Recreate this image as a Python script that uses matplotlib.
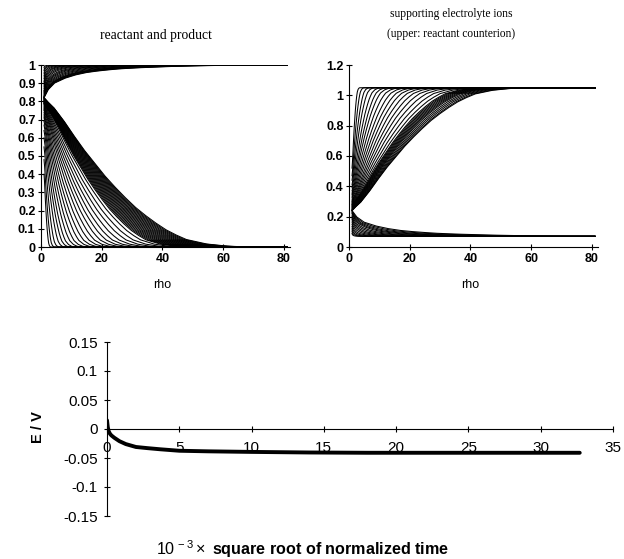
import numpy as np
import matplotlib
matplotlib.use("Agg")
import matplotlib.pyplot as plt

plt.rcParams['font.family'] = ['Liberation Sans', 'DejaVu Sans']
plt.rcParams['mathtext.fontset'] = 'custom'
plt.rcParams['mathtext.rm'] = 'Liberation Sans'
plt.rcParams['mathtext.it'] = 'Liberation Sans:italic'
plt.rcParams['mathtext.bf'] = 'Liberation Sans:bold'

# profile shapes: fraction of the way from the surface
# value to the bulk value, against fraction of the distance to where it meets bulk
prof_u = [0, 0.02, 0.05, 0.1, 0.15, 0.2, 0.25, 0.3, 0.35, 0.4, 0.45, 0.5,
          0.55, 0.6, 0.65, 0.7, 0.8, 0.9, 1.0]
prof_slow = [1.0, 0.97, 0.93, 0.84, 0.74, 0.645, 0.56, 0.475, 0.40, 0.33, 0.265,
             0.21, 0.16, 0.115, 0.08, 0.05, 0.02, 0.006, 0.0]
prof_fast = [1.0, 0.75, 0.55, 0.40, 0.30, 0.23, 0.185, 0.15, 0.12, 0.10, 0.083,
             0.07, 0.057, 0.045, 0.036, 0.028, 0.015, 0.006, 0.0]

rho_first = 1.0
rho_last = 81.0

# left: product (lower family, bulk 0)
prod_bulk = 0.0
prod_start = [0.40, 0.48, 0.55, 0.60, 0.64, 0.67, 0.69, 0.71, 0.72, 0.73, 0.74,
              0.75, 0.755, 0.76, 0.765, 0.77, 0.775, 0.78, 0.785,
              0.786, 0.788, 0.79, 0.792, 0.794, 0.796, 0.798, 0.80, 0.802, 0.804,
              0.806, 0.808, 0.81, 0.812, 0.814, 0.816, 0.818, 0.819, 0.82, 0.82]
prod_reach = [2.2, 3.4, 4.9, 6.7, 8.4, 10.1, 12.1, 14.1, 16.4, 18.7, 21.2,
              23.8, 26.5, 29.3, 32.2, 35.3, 38.6, 41.9, 45.4,
              48, 49, 50, 51, 52, 53, 54, 55, 56, 57, 58, 59, 60, 61, 62, 63,
              64, 65, 66, 67]

# left: reactant (upper family, bulk 1)
reac_bulk = 1.0
reac_start = [0.985, 0.97, 0.955, 0.94, 0.925, 0.91, 0.90, 0.89, 0.88, 0.87, 0.86,
              0.855, 0.85, 0.845, 0.84, 0.835, 0.83, 0.828, 0.826, 0.824, 0.822, 0.82]
reac_reach = [3, 4.5, 6, 8, 10, 12, 14, 17, 20, 23, 27, 31, 35, 40, 45, 50, 55,
              58, 61, 64, 67, 70]

# right: reactant counterion (upper family, bulk 1.05)
coun_bulk = 1.05
coun_start = [0.52, 0.47, 0.44, 0.41, 0.39, 0.37, 0.355, 0.345, 0.335, 0.325,
              0.315, 0.305, 0.30, 0.295, 0.29, 0.285, 0.28,
              0.278, 0.274, 0.27, 0.266, 0.262, 0.258, 0.254, 0.25, 0.247, 0.244,
              0.242, 0.24, 0.24]
coun_reach = [2.5, 3.9, 5.6, 7.3, 9.4, 11.4, 13.4, 15.8, 18.3, 20.8, 23.3,
              26, 28.9, 31.9, 35.1, 38.4, 41.5,
              44, 45, 46, 47, 48, 49, 50, 51, 52.5, 54, 55.5, 57, 58]

# right: other electrolyte ion (lower family, bulk 0.07)
coion_bulk = 0.07
coion_start = [0.09, 0.105, 0.12, 0.135, 0.15, 0.165, 0.18, 0.19, 0.20, 0.21,
               0.22, 0.225, 0.23, 0.235, 0.24]
coion_reach = [3, 5, 7, 10, 13, 17, 21, 26, 32, 38, 45, 52, 60, 70, 80]

# bottom: potential transient
t_sqrt = [0, 0.05, 0.1, 0.2, 0.3, 0.5, 0.86, 1.3, 2.0, 2.8, 3.7, 5, 7, 10, 14,
          18, 22, 26, 30, 32.7]
e_volt = [0.015, 0.004, -0.003, -0.008, -0.011, -0.015, -0.021, -0.026, -0.031,
          -0.033, -0.035, -0.0375, -0.0385, -0.0395, -0.0405, -0.041, -0.041,
          -0.041, -0.041, -0.041]

left_yticks = [0, 0.1, 0.2, 0.3, 0.4, 0.5, 0.6, 0.7, 0.8, 0.9, 1]
left_ylabels = ['0', '0.1', '0.2', '0.3', '0.4', '0.5', '0.6', '0.7', '0.8', '0.9', '1']
right_yticks = [0, 0.2, 0.4, 0.6, 0.8, 1.0, 1.2]
right_ylabels = ['0', '0.2', '0.4', '0.6', '0.8', '1', '1.2']
rho_ticks = [0, 20, 40, 60, 80]
e_ticks = [-0.15, -0.1, -0.05, 0, 0.05, 0.1, 0.15]
e_labels = ['-0.15', '-0.1', '-0.05', '0', '0.05', '0.1', '0.15']
t_ticks = [0, 5, 10, 15, 20, 25, 30, 35]


def draw_family(ax, starts, reaches, bulk, prof):
    u = np.array(prof_u)
    p = np.array(prof)
    for s, r in zip(starts, reaches):
        x = rho_first + u * r
        y = bulk + (s - bulk) * p
        keep = x < rho_last
        x = np.append(x[keep], rho_last)
        y = np.append(y[keep], bulk)
        ax.plot(x, y, color='black', lw=0.75)


def style_top(ax):
    for side in ['top', 'right']:
        ax.spines[side].set_visible(False)
    for side in ['left', 'bottom']:
        ax.spines[side].set_linewidth(0.8)
    ax.set_xlim(0, 82)
    ax.set_xticks(rho_ticks)
    ax.set_xticklabels([str(v) for v in rho_ticks])
    ax.tick_params(direction='inout', length=4, width=0.8, labelsize=9, pad=2)
    for lab in ax.get_xticklabels() + ax.get_yticklabels():
        lab.set_fontweight('bold')


W, H = 624, 559
fig = plt.figure(figsize=(W / 100, H / 100), dpi=100)

ax1 = fig.add_axes([41 / W, 1 - 247 / H, 249 / W, 182 / H])
draw_family(ax1, prod_start, prod_reach, prod_bulk, prof_slow)
draw_family(ax1, reac_start, reac_reach, reac_bulk, prof_fast)
ax1.set_ylim(0, 1)
ax1.set_yticks(left_yticks)
ax1.set_yticklabels(left_ylabels)
style_top(ax1)

ax2 = fig.add_axes([349 / W, 1 - 247 / H, 249 / W, 182 / H])
draw_family(ax2, coun_start, coun_reach, coun_bulk, prof_slow)
draw_family(ax2, coion_start, coion_reach, coion_bulk, prof_fast)
ax2.set_ylim(0, 1.2)
ax2.set_yticks(right_yticks)
ax2.set_yticklabels(right_ylabels)
style_top(ax2)

serif = ['Liberation Serif', 'DejaVu Serif']
fig.text(156 / W, 1 - 35 / H, 'reactant and product', ha='center', va='center',
         family=serif, fontsize=9.8)
fig.text(451 / W, 1 - 14 / H, 'supporting electrolyte ions', ha='center',
         va='center', family=serif, fontsize=8.3)
fig.text(451 / W, 1 - 34 / H, '(upper: reactant counterion)', ha='center',
         va='center', family=serif, fontsize=8.3)
fig.text(162 / W, 1 - 285 / H, 'rho', ha='center', va='center', fontsize=9)
fig.text(470 / W, 1 - 285 / H, 'rho', ha='center', va='center', fontsize=9)

ax3 = fig.add_axes([107 / W, 1 - 516 / H, 506 / W, 174 / H])
ax3.plot(t_sqrt, e_volt, color='black', lw=2.8, solid_capstyle='round')
ax3.set_xlim(0, 35)
ax3.set_ylim(-0.15, 0.15)
ax3.spines['top'].set_visible(False)
ax3.spines['right'].set_visible(False)
ax3.spines['bottom'].set_position(('data', 0))
ax3.spines['left'].set_linewidth(0.8)
ax3.spines['bottom'].set_linewidth(0.8)
ax3.set_xticks(t_ticks)
ax3.set_xticklabels([str(v) for v in t_ticks])
ax3.set_yticks(e_ticks)
ax3.set_yticklabels(e_labels)
ax3.tick_params(direction='inout', length=5, width=0.8, labelsize=11)
ax3.tick_params(axis='x', pad=6)
ax3.tick_params(axis='y', pad=4)

fig.text(38 / W, 1 - 427 / H, 'E / V', rotation=90, ha='center', va='center',
         fontsize=10.5, fontweight='bold')
fig.text(303 / W, 1 - 549 / H, r'$10^{\,-3}\times$ square root of normalized time',
         ha='center', va='center', fontsize=11.6, fontweight='bold')

fig.savefig('out.png', dpi=100)
